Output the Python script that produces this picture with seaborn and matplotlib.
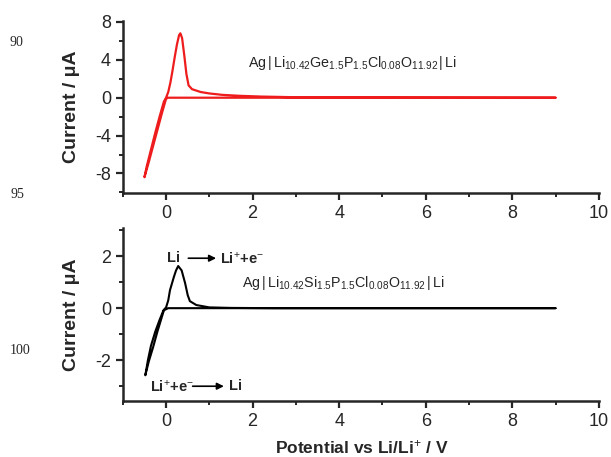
import numpy as np
import pandas as pd
import matplotlib
matplotlib.use("Agg")
import matplotlib.pyplot as plt
import seaborn as sns
from matplotlib.ticker import MultipleLocator

# ---- data ----
pot_ge = [9.0, 5.0, 2.0, 0.5, 0.05, 0.0, -0.1, -0.2, -0.3, -0.4, -0.5,
          -0.45, -0.35, -0.25, -0.15, -0.05, 0.0, 0.05, 0.1, 0.15, 0.2, 0.25,
          0.3, 0.33, 0.37, 0.42, 0.47, 0.52, 0.6, 0.8, 1.0, 1.3, 1.7, 2.2,
          3.0, 5.0, 9.0]
cur_ge = [0.0, 0.0, 0.0, 0.0, 0.0, -0.1, -1.7, -3.4, -5.1, -6.8, -8.4,
          -7.3, -5.5, -3.7, -2.0, -0.4, 0.0, 0.6, 1.6, 2.9, 4.3, 5.6,
          6.6, 6.8, 6.3, 4.5, 2.5, 1.3, 0.9, 0.6, 0.45, 0.3, 0.2, 0.12,
          0.05, 0.02, 0.0]

pot_si = [9.0, 5.0, 2.0, 0.5, 0.05, -0.05, -0.1, -0.2, -0.3, -0.4, -0.48,
          -0.42, -0.35, -0.25, -0.15, -0.06, 0.0, 0.05, 0.09, 0.18, 0.23,
          0.28, 0.36, 0.44, 0.5, 0.55, 0.7, 1.0, 1.5, 2.5, 5.0, 9.0]
cur_si = [0.0, 0.0, 0.0, 0.0, 0.0, -0.08, -0.35, -0.9, -1.5, -2.05, -2.58,
          -2.0, -1.45, -0.9, -0.45, -0.08, 0.03, 0.3, 0.69, 1.2, 1.45,
          1.62, 1.45, 0.96, 0.5, 0.27, 0.12, 0.03, 0.01, 0.0, 0.0, 0.0]

x_ticks = [0, 2, 4, 6, 8, 10]
y_ticks_top = [-8, -4, 0, 4, 8]
y_ticks_bot = [-2, 0, 2]

label_ge = r"Ag$\,|\,$Li$_{10.42}$Ge$_{1.5}$P$_{1.5}$Cl$_{0.08}$O$_{11.92}$$\,|\,$Li"
label_si = r"Ag$\,|\,$Li$_{10.42}$Si$_{1.5}$P$_{1.5}$Cl$_{0.08}$O$_{11.92}$$\,|\,$Li"
ylabel = "Current / \u03bcA"
xlabel = r"Potential vs Li/Li$^{+}$ / V"
line_numbers = ["90", "95", "100"]

df_ge = pd.DataFrame({"pot": pot_ge, "cur": cur_ge})
df_si = pd.DataFrame({"pot": pot_si, "cur": cur_si})

sns.set_style("ticks")
plt.rcParams["font.family"] = ["Liberation Sans", "DejaVu Sans"]
plt.rcParams["axes.unicode_minus"] = False
plt.rcParams["mathtext.fontset"] = "custom"
plt.rcParams["mathtext.rm"] = "Liberation Sans"
plt.rcParams["mathtext.it"] = "Liberation Sans:italic"
plt.rcParams["mathtext.bf"] = "Liberation Sans:bold"

fig = plt.figure(figsize=(6.11, 4.57), dpi=100)
ax1 = fig.add_axes([0.201, 0.578, 0.779, 0.376])
ax2 = fig.add_axes([0.201, 0.123, 0.779, 0.378])

sns.lineplot(data=df_ge, x="pot", y="cur", sort=False, estimator=None,
             color="#ee1c1c", lw=1.6, ax=ax1)
sns.lineplot(data=df_si, x="pot", y="cur", sort=False, estimator=None,
             color="black", lw=1.5, ax=ax2)

for ax, yt, ylim in [(ax1, y_ticks_top, (-10.05, 8.1)), (ax2, y_ticks_bot, (-3.56, 3.08))]:
    ax.set_xlim(-1, 10)
    ax.set_ylim(*ylim)
    ax.set_xticks(x_ticks)
    ax.set_yticks(yt)
    ax.xaxis.set_minor_locator(MultipleLocator(1))
    ax.yaxis.set_minor_locator(MultipleLocator(2 if ax is ax1 else 1))
    for s in ["top", "right"]:
        ax.spines[s].set_visible(False)
    for s in ["left", "bottom"]:
        ax.spines[s].set_linewidth(1.8)
    ax.tick_params(which="major", length=5, width=1.6, labelsize=13, direction="out")
    ax.tick_params(which="minor", length=3, width=1.4, direction="out")
    ax.set_xlabel("")

ax1.set_ylabel(ylabel, fontsize=14, fontweight="bold")
ax2.set_ylabel(ylabel, fontsize=14, fontweight="bold")
for ax in (ax1, ax2):
    ax.yaxis.set_label_coords(-0.09, 0.5)

ax1.text(4.3, 3.7, label_ge, fontsize=10.3, ha="center", va="center")
ax2.text(4.1, 0.96, label_si, fontsize=10.3, ha="center", va="center")

# reaction annotations
ax2.text(0.18, 1.92, "Li", fontsize=10.5, fontweight="bold", ha="center", va="center")
ax2.annotate("", xy=(1.22, 1.92), xytext=(0.45, 1.92),
             arrowprops=dict(arrowstyle="-|>", color="black", lw=1.2, mutation_scale=10))
ax2.text(1.25, 1.92, r"Li$^{+}$+e$^{-}$", fontsize=10.5, fontweight="bold",
         ha="left", va="center")
ax2.text(-0.38, -3.0, r"Li$^{+}$+e$^{-}$", fontsize=10.5, fontweight="bold",
         ha="left", va="center")
ax2.annotate("", xy=(1.4, -3.0), xytext=(0.55, -3.0),
             arrowprops=dict(arrowstyle="-|>", color="black", lw=1.2, mutation_scale=10))
ax2.text(1.45, -3.0, "Li", fontsize=10.5, fontweight="bold", ha="left", va="center")

fig.text(362 / 611, 1 - 447 / 457, xlabel, fontsize=12.5, fontweight="bold",
         ha="center", va="center")

for lab, x, y in zip(line_numbers, [16, 17, 20], [43, 195, 350]):
    fig.text(x / 611, 1 - y / 457, lab, fontsize=10, family="Liberation Serif",
             ha="center", va="center")

fig.savefig("out.png", dpi=100)
